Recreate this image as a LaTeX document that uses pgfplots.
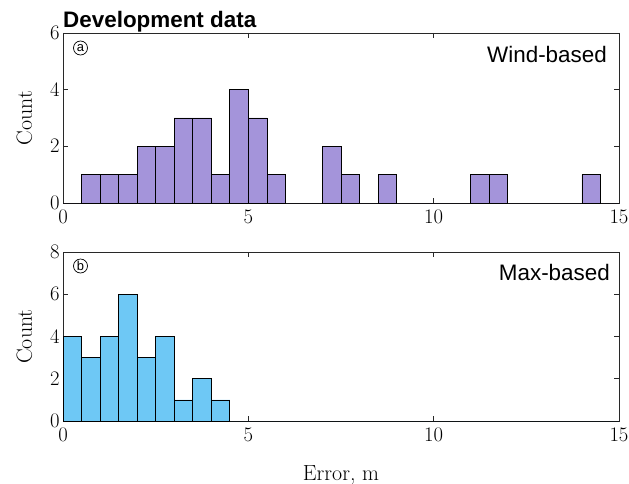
\documentclass[border=0pt]{standalone}
\usepackage{pgfplots}
\pgfplotsset{compat=1.18}
\usepackage{fontspec}
\newfontfamily\arialfont{Liberation Sans}
\definecolor{purp}{RGB}{164,148,218}
\definecolor{lblue}{RGB}{110,200,245}
\definecolor{axgray}{RGB}{40,40,40}

\pgfplotstableread{
x y
0.0 0
0.5 1
1.0 1
1.5 1
2.0 2
2.5 2
3.0 3
3.5 3
4.0 1
4.5 4
5.0 3
5.5 1
6.0 0
6.5 0
7.0 2
7.5 1
8.0 0
8.5 1
9.0 0
9.5 0
10.0 0
10.5 0
11.0 1
11.5 1
12.0 0
12.5 0
13.0 0
13.5 0
14.0 1
14.5 0
15.0 0
}\windtab

\pgfplotstableread{
x y
0.0 4
0.5 3
1.0 4
1.5 6
2.0 3
2.5 4
3.0 1
3.5 2
4.0 1
4.5 0
5.0 0
5.5 0
6.0 0
6.5 0
7.0 0
7.5 0
8.0 0
8.5 0
9.0 0
9.5 0
10.0 0
10.5 0
11.0 0
11.5 0
12.0 0
12.5 0
13.0 0
13.5 0
14.0 0
14.5 0
15.0 0
}\maxtab

\begin{document}
\begin{tikzpicture}
\useasboundingbox (-63bp,-281bp) rectangle (566bp,203bp);
\pgfplotsset{
  every axis/.append style={
    scale only axis,
    width=556bp,
    xmin=0, xmax=15, ymin=0,
    xtick={0,5,10,15},
    axis line style={axgray, line width=0.8pt},
    every tick/.style={axgray, line width=0.6pt},
    major tick length=5bp,
    tick align=inside,
    tick label style={font=\fontsize{20}{24}\selectfont},
    xticklabel style={yshift=-4bp},
    ylabel style={font=\fontsize{22}{26}\selectfont, at={(axis description cs:-0.0558,0.5)}, anchor=base},
    xlabel style={font=\fontsize{22}{26}\selectfont, at={(axis description cs:0.5,-0.355)}, anchor=base},
    clip=false,
  }
}
\begin{axis}[
  at={(0,0)}, anchor=south west,
  height=170bp,
  ymax=6, ytick={0,2,4,6},
  ylabel={Count},
]
\addplot[ybar interval, fill=purp, draw=black, line width=0.7pt] table[x=x,y=y] {\windtab};
\node[anchor=base west, font=\arialfont\bfseries\fontsize{22.5}{26}\selectfont, inner sep=0pt] at ([yshift=5bp]rel axis cs:0,1) {Development data};
\node[anchor=north east, font=\arialfont\fontsize{22.5}{26}\selectfont, inner sep=0pt] at ([xshift=-12bp,yshift=-13bp]rel axis cs:1,1) {Wind-based};
\node[draw=black, circle, minimum size=14bp, inner sep=0pt, line width=0.7pt, font=\arialfont\fontsize{13}{14}\selectfont] at ([xshift=17.5bp,yshift=-15bp]rel axis cs:0,1) {a};
\end{axis}
\begin{axis}[
  at={(0,-218bp)}, anchor=south west,
  height=169bp,
  ymax=8, ytick={0,2,4,6,8},
  ylabel={Count},
  xlabel={Error, m},
]
\addplot[ybar interval, fill=lblue, draw=black, line width=0.7pt] table[x=x,y=y] {\maxtab};
\node[anchor=north east, font=\arialfont\fontsize{22.5}{26}\selectfont, inner sep=0pt] at ([xshift=-9bp,yshift=-12bp]rel axis cs:1,1) {Max-based};
\node[draw=black, circle, minimum size=14bp, inner sep=0pt, line width=0.7pt, font=\arialfont\fontsize{13}{14}\selectfont] at ([xshift=17.5bp,yshift=-14bp]rel axis cs:0,1) {b};
\end{axis}
\end{tikzpicture}
\end{document}
